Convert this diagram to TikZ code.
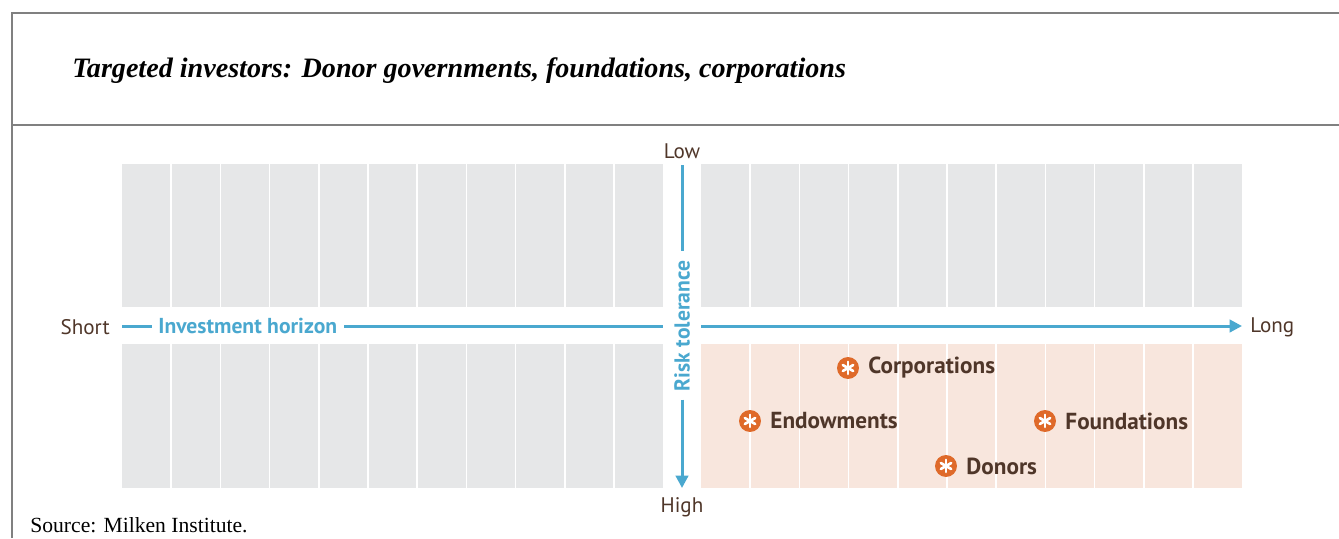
\documentclass[tikz,border=0pt]{standalone}
\usepackage{fontspec}
\setmainfont{Liberation Serif}
\newfontfamily\chartsans{PT Sans}
\usetikzlibrary{arrows.meta, positioning}
\definecolor{axisblue}{HTML}{4AA8CF}
\definecolor{panelgray}{HTML}{E6E7E8}
\definecolor{panelpeach}{HTML}{F8E6DD}
\definecolor{pinorange}{HTML}{DF6A2A}
\definecolor{textbrown}{HTML}{4F3629}
\tikzset{
    end text/.style={font=\chartsans\fontsize{12}{14}\selectfont, text=textbrown}, % 轴两端文字
    axis name/.style={font=\chartsans\bfseries\fontsize{12.3}{14}\selectfont, text=axisblue, inner sep=0pt}, % 轴名称
    axis line/.style={axisblue, line width=1.7pt}, % 轴线
    pin/.style={circle, fill=pinorange, inner sep=0pt, minimum size=12.5pt,
        path picture={\foreach \a in {90,150,...,450} {\draw[white, line width=1.5pt, line cap=round] (path picture bounding box.center) -- ++(\a:3.4pt);}}}, % 投资者标记
    pin text/.style={font=\chartsans\bfseries\fontsize{13.2}{15}\selectfont, text=textbrown, inner sep=0pt} % 投资者名称
}

\begin{document}
\begin{tikzpicture}[x=0.02cm, y=-0.02cm]
    \useasboundingbox (0,0) rectangle (1339,538);
    \def\colw{49.2}

    % 外框与标题
    \draw[gray, line width=0.8pt] (12,538) -- (12,13) -- (1339,13);
    \draw[gray, line width=0.8pt] (12,125) -- (1339,125);
    \node[anchor=base west, font=\bfseries\itshape\fontsize{16}{18}\selectfont, inner sep=0pt] (title) at (72,77) {Targeted investors: Donor governments, foundations, corporations};
    \node[anchor=base west, font=\fontsize{12.3}{14}\selectfont, inner sep=0pt] (source) at (30,532) {Source: Milken Institute.};

    % 四个象限
    \fill[panelgray] (122,164) rectangle (663,307);
    \fill[panelgray] (701,164) rectangle (1242,307);
    \fill[panelgray] (122,344) rectangle (663,488);
    \fill[panelpeach] (701,344) rectangle (1242,488);
    \foreach \k in {1,...,10} {
        \draw[white, line width=0.9pt] (122+\k*\colw,164) -- (122+\k*\colw,307);
        \draw[white, line width=0.9pt] (701+\k*\colw,164) -- (701+\k*\colw,307);
        \draw[white, line width=0.9pt] (122+\k*\colw,344) -- (122+\k*\colw,488);
        \draw[white, line width=0.9pt] (701+\k*\colw,344) -- (701+\k*\colw,488);
    }

    % 横轴
    \coordinate (hstart) at (122,326);
    \coordinate (hgapL) at (663,326);
    \coordinate (hgapR) at (701,326);
    \coordinate (hend) at (1242,326);
    \node[axis name, anchor=west] (horizon) at (158,326) {Investment horizon};
    \draw[axis line] (hstart) -- ([xshift=-6*0.02cm]horizon.west);
    \draw[axis line] ([xshift=7*0.02cm]horizon.east) -- (hgapL);
    \draw[axis line, -{Triangle[length=7pt, width=7pt]}] (hgapR) -- (hend);
    \node[end text, anchor=east, inner sep=0pt] (short) at (110,327) {Short};
    \node[end text, anchor=west, inner sep=0pt] (long) at (1250,327) {Long};

    % 纵轴
    \coordinate (vstart) at (682,165);
    \coordinate (vend) at (682,488);
    \node[axis name, rotate=90] (risk) at (682,326) {Risk tolerance};
    \draw[axis line] (vstart) -- ([yshift=9*0.02cm]risk.east);
    \draw[axis line, -{Triangle[length=7pt, width=7pt]}] ([yshift=-8*0.02cm]risk.west) -- (vend);
    \node[end text, anchor=base] (low) at (682,158) {Low};
    \node[end text, anchor=base] (high) at (682,512) {High};

    % 投资者
    \node[pin] (corp) at (848,368) {};
    \node[pin] (endow) at (750,421) {};
    \node[pin] (found) at (1045,421) {};
    \node[pin] (donor) at (946,466) {};
    \node[pin text, right=5pt of corp] (corplabel) {Corporations};
    \node[pin text, right=5pt of endow] (endowlabel) {Endowments};
    \node[pin text, right=5pt of found] (foundlabel) {Foundations};
    \node[pin text, right=5pt of donor] (donorlabel) {Donors};
\end{tikzpicture}
\end{document}
